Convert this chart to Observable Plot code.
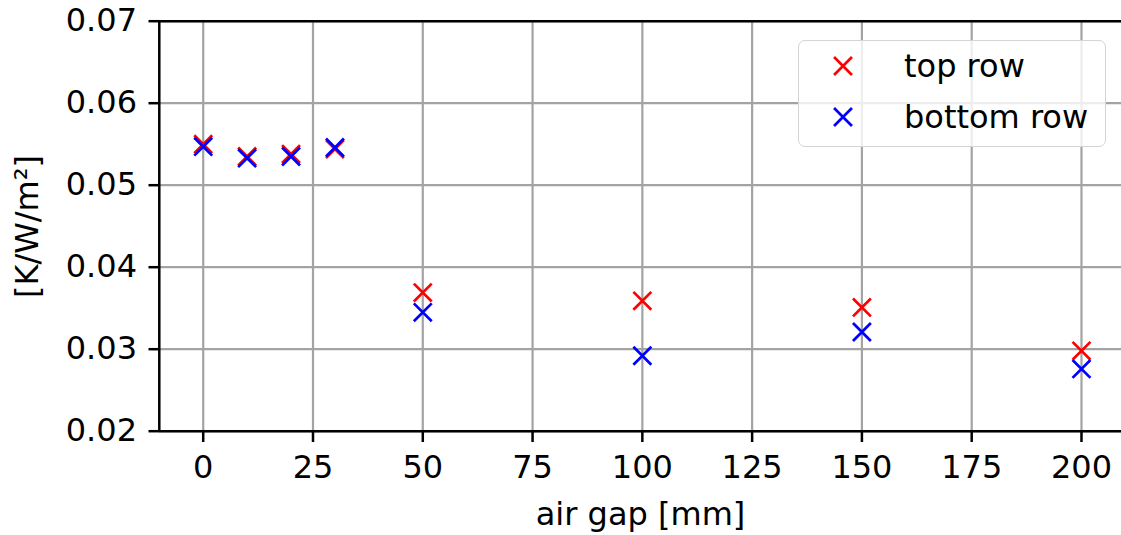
<!DOCTYPE html>
<html>
<head>
<meta charset="utf-8">
<script src="https://cdn.jsdelivr.net/npm/d3@7"></script>
<script src="https://cdn.jsdelivr.net/npm/@observablehq/plot@0.6"></script>
<style>
  html, body { margin: 0; padding: 0; background: #fff; }
  #chart { position: relative; width: 1121px; height: 535px; overflow: hidden; font-family: "DejaVu Sans", sans-serif; }
  #legend {
    position: absolute; left: 798px; top: 40px; width: 306px; height: 105px;
    border: 1.5px solid #d4d4d4; border-radius: 7px; background: rgba(255,255,255,0.8);
    box-sizing: content-box;
  }
  #legend .row { position: absolute; left: 0; height: 40px; display: flex; align-items: center; }
  #legend .row svg { margin-left: 32px; }
  #legend .row span { margin-left: 49px; font-size: 32px; color: #000; line-height: 40px; }
</style>
</head>
<body>
<div id="chart"></div>
<script>
// Thermal resistance measured for each air gap width
const airGap    = [0, 10, 20, 30, 50, 100, 150, 200];
const topRow    = [0.0550, 0.0535, 0.0538, 0.0544, 0.0369, 0.0359, 0.0351, 0.0298];
const bottomRow = [0.0547, 0.0533, 0.0535, 0.0546, 0.0345, 0.0292, 0.0321, 0.0276];

const seriesNames  = ["top row", "bottom row"];
const seriesColors = ["#ff0000", "#0000ff"];

const xTicks = [0, 25, 50, 75, 100, 125, 150, 175, 200];
const yTicks = [0.02, 0.03, 0.04, 0.05, 0.06, 0.07];

const xLabel = "air gap [mm]";
const yLabel = "[K/W/m²]";

const topData = airGap.map((g, i) => ({gap: g, value: topRow[i]}));
const bottomData = airGap.map((g, i) => ({gap: g, value: bottomRow[i]}));

const font = "DejaVu Sans";
const fs = 32;
const markerR = 8.2;
const gridStyle = {stroke: "#a3a3a3", strokeOpacity: 1, strokeWidth: 2.2};
const spine = {stroke: "#000", strokeWidth: 2.5};

const chart = Plot.plot({
  width: 1121,
  height: 535,
  marginLeft: 159,
  marginRight: 0,
  marginTop: 21,
  marginBottom: 104,
  style: {fontFamily: font, fontSize: fs + "px", color: "#000", background: "white"},
  x: {domain: [-10, 210], range: [158.8, 1124.9]},
  y: {domain: [0.02, 0.07], range: [430.7, 20.7]},
  marks: [
    Plot.gridX(xTicks, gridStyle),
    Plot.gridY(yTicks, gridStyle),
    Plot.ruleY([0.02, 0.07], spine),
    Plot.ruleX([-10], spine),
    Plot.axisX(xTicks, {tickSize: 11, tickPadding: 13, strokeWidth: 2.5, fontSize: fs, label: null}),
    Plot.axisY(yTicks, {tickSize: 10.5, tickPadding: 12, strokeWidth: 2.5, fontSize: fs, label: null,
      tickFormat: d3.format(".2f")}),
    Plot.dot(topData, {x: "gap", y: "value", symbol: "times", r: markerR,
      stroke: seriesColors[0], strokeWidth: 2.7}),
    Plot.dot(bottomData, {x: "gap", y: "value", symbol: "times", r: markerR,
      stroke: seriesColors[1], strokeWidth: 2.7}),
    Plot.text([xLabel], {frameAnchor: "bottom", dy: 83, fontSize: fs, lineAnchor: "middle",
      textAnchor: "middle", fill: "#000"}),
    Plot.text([yLabel], {frameAnchor: "left", dx: -132, rotate: -90, fontSize: fs,
      lineAnchor: "middle", textAnchor: "middle", fill: "#000"})
  ]
});

const host = document.getElementById("chart");
host.appendChild(chart);

// Legend box drawn over the plot area
const legend = document.createElement("div");
legend.id = "legend";
const symbolPath = d3.symbol(d3.symbolTimes, markerR * markerR * Math.PI)();
seriesNames.forEach((name, i) => {
  const row = document.createElement("div");
  row.className = "row";
  row.style.top = (5 + i * 51) + "px";
  row.innerHTML =
    `<svg width="24" height="24" viewBox="-12 -12 24 24">` +
    `<path d="${symbolPath}" fill="none" stroke="${seriesColors[i]}" stroke-width="2.7"/></svg>` +
    `<span>${name}</span>`;
  legend.appendChild(row);
});
host.appendChild(legend);
</script>
</body>
</html>
